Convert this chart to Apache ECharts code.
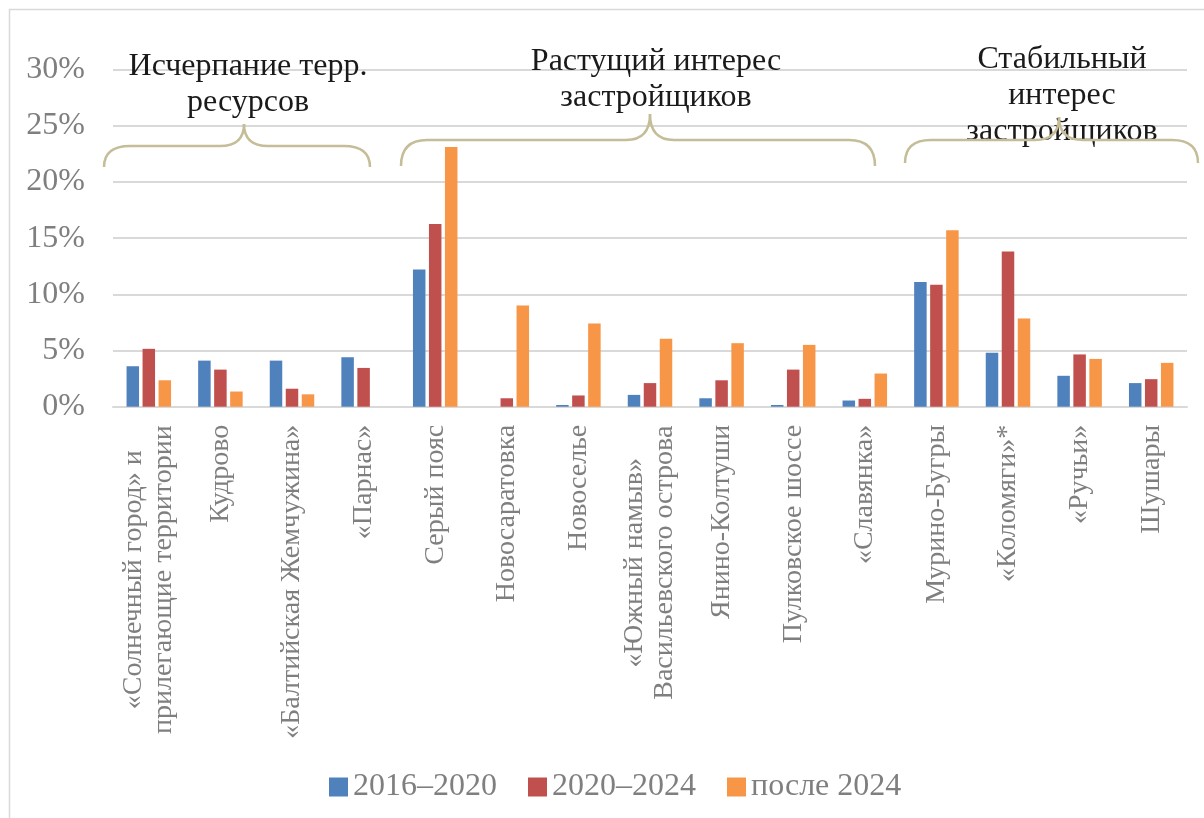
<!DOCTYPE html>
<html>
<head>
<meta charset="utf-8">
<script src="https://cdn.jsdelivr.net/npm/echarts@6/dist/echarts.min.js"></script>
<style>
html,body{margin:0;padding:0;background:#fff;}
#chart{width:1204px;height:818px;}
</style>
</head>
<body>
<div id="chart"></div>
<script>
// ---- data ----
const categories = [
  '«Солнечный город» и\nприлегающие территории',
  'Кудрово',
  '«Балтийская Жемчужина»',
  '«Парнас»',
  'Серый пояс',
  'Новосаратовка',
  'Новоселье',
  '«Южный намыв»\nВасильевского острова',
  'Янино-Колтуши',
  'Пулковское шоссе',
  '«Славянка»',
  'Мурино-Бугры',
  '«Коломяги»*',
  '«Ручьи»',
  'Шушары'
];
const seriesNames = ['2016–2020', '2020–2024', 'после 2024'];
const values2016_2020 = [3.6, 4.1, 4.1, 4.4, 12.2, 0, 0.15, 1.05, 0.75, 0.15, 0.55, 11.1, 4.8, 2.75, 2.1];
const values2020_2024 = [5.15, 3.3, 1.6, 3.45, 16.25, 0.75, 1.0, 2.1, 2.35, 3.3, 0.7, 10.85, 13.8, 4.65, 2.45];
const valuesAfter2024 = [2.35, 1.35, 1.1, 0, 23.1, 9.0, 7.4, 6.05, 5.65, 5.5, 2.95, 15.7, 7.85, 4.25, 3.9];
const yTicks = { min: 0, max: 30, interval: 5 };
const groupTitles = [
  'Исчерпание терр.\nресурсов',
  'Растущий интерес\nзастройщиков',
  'Стабильный\nинтерес\nзастройщиков'
];

// ---- styles ----
const FONT = 'Liberation Serif';
const GRAY = '#7f7f7f';
const CAT_SIZE = 28;
const CAT_LH = 30;
const colors = ['#4f81bd', '#c0504d', '#f79646'];

// measure text widths for centered multi-line labels
const mctx = document.createElement('canvas').getContext('2d');
mctx.font = CAT_SIZE + 'px "' + FONT + '"';
const rich = {};
categories.forEach((c, i) => {
  const lines = c.split('\n');
  if (lines.length > 1) {
    const w = Math.max(...lines.map(l => mctx.measureText(l).width));
    rich['m' + i] = { width: Math.ceil(w) + 1, align: 'center', fontSize: CAT_SIZE, fontFamily: FONT, color: GRAY, lineHeight: CAT_LH };
  }
});

const chart = echarts.init(document.getElementById('chart'), null, { renderer: 'canvas' });

const braceStyle = { stroke: '#c4bd97', lineWidth: 2.5, fill: null };
function brace(x0, x1, xp, yb, yh, yt) {
  const r = 26, q = 24;
  const mk = (type, shape) => ({ type: type, z: 20, silent: true, shape: shape, style: braceStyle });
  return {
    type: 'group',
    children: [
      mk('bezierCurve', { x1: x0, y1: yb, x2: x0 + r, y2: yh, cpx1: x0, cpy1: yh }),
      mk('line', { x1: x0 + r, y1: yh, x2: xp - q, y2: yh }),
      mk('bezierCurve', { x1: xp - q, y1: yh, x2: xp, y2: yt, cpx1: xp, cpy1: yh }),
      mk('bezierCurve', { x1: xp, y1: yt, x2: xp + q, y2: yh, cpx1: xp, cpy1: yh }),
      mk('line', { x1: xp + q, y1: yh, x2: x1 - r, y2: yh }),
      mk('bezierCurve', { x1: x1 - r, y1: yh, x2: x1, y2: yb, cpx1: x1, cpy1: yh })
    ]
  };
}

const option = {
  backgroundColor: '#fff',
  animation: false,
  color: colors,
  grid: { left: 113, right: 17, top: 69.5, bottom: 411.3, containLabel: false },
  legend: {
    data: seriesNames,
    left: 324,
    top: 766,
    icon: 'rect',
    itemWidth: 19,
    itemHeight: 19,
    itemGap: 31,
    textStyle: { fontFamily: FONT, fontSize: 32, color: GRAY }
  },
  xAxis: {
    type: 'category',
    data: categories,
    axisLine: { show: true, lineStyle: { color: '#d9d9d9', width: 2 } },
    axisTick: { show: false },
    axisLabel: {
      interval: 0,
      rotate: 90,
      margin: 18,
      fontFamily: FONT,
      fontSize: CAT_SIZE,
      lineHeight: CAT_LH,
      color: GRAY,
      formatter: function (v, i) {
        const lines = v.split('\n');
        if (lines.length > 1) return lines.map(l => '{m' + i + '|' + l + '}').join('\n');
        return v;
      },
      rich: rich
    }
  },
  yAxis: {
    type: 'value',
    min: yTicks.min,
    max: yTicks.max,
    interval: yTicks.interval,
    axisLine: { show: false },
    axisTick: { show: false },
    splitLine: { lineStyle: { color: '#d9d9d9', width: 2 } },
    axisLabel: {
      formatter: '{value}%',
      margin: 28,
      fontFamily: FONT,
      fontSize: 32,
      color: GRAY
    }
  },
  series: [
    { name: seriesNames[0], type: 'bar', data: values2016_2020, barWidth: 12.5, barGap: '28%' },
    { name: seriesNames[1], type: 'bar', data: values2020_2024, barWidth: 12.5, barGap: '28%' },
    { name: seriesNames[2], type: 'bar', data: valuesAfter2024, barWidth: 12.5, barGap: '28%' }
  ],
  graphic: [
    { type: 'rect', z: 0, silent: true, shape: { x: 9.5, y: 9.5, width: 1400, height: 1000 }, style: { fill: null, stroke: '#d9d9d9', lineWidth: 1.5 } },
    { type: 'text', z: 10, x: 248, y: 49, style: { text: groupTitles[0], fontFamily: FONT, fontSize: 32, lineHeight: 36, fill: '#1a1a1a', align: 'center', verticalAlign: 'top' } },
    { type: 'text', z: 10, x: 656, y: 44, style: { text: groupTitles[1], fontFamily: FONT, fontSize: 32, lineHeight: 36, fill: '#1a1a1a', align: 'center', verticalAlign: 'top' } },
    { type: 'text', z: 10, x: 1062, y: 42, style: { text: groupTitles[2], fontFamily: FONT, fontSize: 32, lineHeight: 36, fill: '#1a1a1a', align: 'center', verticalAlign: 'top' } },
    brace(104, 370, 244, 167, 146, 124),
    brace(401, 875, 650, 166, 140, 114),
    brace(905, 1198, 1059, 163, 140, 117)
  ]
};
chart.setOption(option);
</script>
</body>
</html>
